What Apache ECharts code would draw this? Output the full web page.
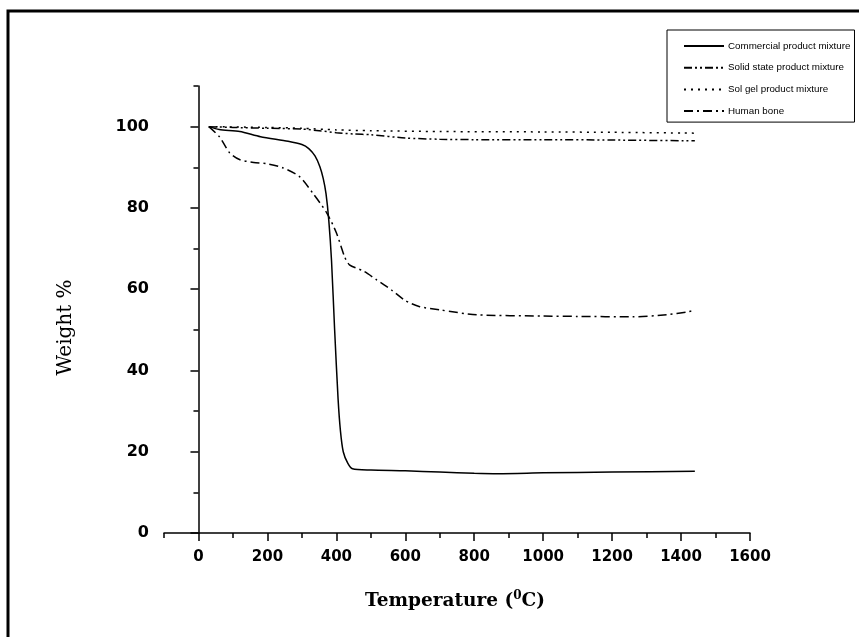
<!DOCTYPE html>
<html>
<head>
<meta charset="utf-8">
<script src="https://cdn.jsdelivr.net/npm/echarts@6/dist/echarts.min.js"></script>
<style>
  html, body { margin: 0; padding: 0; background: #fff; }
  #chart { width: 859px; height: 637px; }
</style>
</head>
<body>
<div id="chart"></div>
<script>
// data: temperature (°C) and weight (%)
var commercialT = [30, 60, 120, 180, 260, 300, 320, 338, 352, 362, 370, 378, 386, 395, 405, 412, 420, 433, 447, 500, 600, 700, 800, 870, 1000, 1200, 1440];
var commercialW = [100, 99.3, 98.8, 97.5, 96.4, 95.6, 94.6, 92.8, 90.2, 87.2, 83.5, 77, 67, 50, 33, 25, 20, 17.2, 15.8, 15.5, 15.3, 15.0, 14.7, 14.6, 14.8, 15.0, 15.2];

var solidT = [30, 100, 200, 300, 350, 400, 450, 500, 600, 700, 800, 1000, 1200, 1440];
var solidW = [100, 99.8, 99.6, 99.4, 99.0, 98.5, 98.2, 98.0, 97.2, 96.9, 96.8, 96.8, 96.7, 96.5];

var solGelT = [30, 200, 300, 400, 500, 700, 1000, 1200, 1440];
var solGelW = [100, 99.8, 99.6, 99.2, 99.0, 98.8, 98.7, 98.6, 98.4];

var boneT = [30, 61, 90, 119, 160, 197, 244, 293, 331, 372, 400, 424, 438, 480, 517, 560, 600, 642, 700, 807, 1000, 1100, 1260, 1358, 1417, 1440];
var boneW = [100, 97.5, 93.6, 91.9, 91.2, 90.9, 89.9, 87.7, 83.7, 78.8, 73.9, 68, 66, 64.4, 62.3, 59.8, 57.2, 55.7, 54.9, 53.7, 53.4, 53.3, 53.2, 53.7, 54.4, 54.8];

var seriesNames = ["Commercial product mixture", "Solid state product mixture", "Sol gel product mixture", "Human bone"];

// tick values: labelled ticks and the short in-between ones
var xMajorTicks = [0, 200, 400, 600, 800, 1000, 1200, 1400, 1600];
var xMinorTicks = [-100, 100, 300, 500, 700, 900, 1100, 1300, 1500];
var yMajorTicks = [0, 20, 40, 60, 80, 100];
var yMinorTicks = [10, 30, 50, 70, 90, 110];

function pairs(xs, ys) {
  return xs.map(function (x, i) { return [x, ys[i]]; });
}

var chart = echarts.init(document.getElementById("chart"));

function lineSeries(name, data, dash) {
  return {
    name: name,
    type: "line",
    data: data,
    symbol: "none",
    smooth: 0.25,
    lineStyle: { color: "#000", width: 1.5, type: dash },
    itemStyle: { color: "#000" },
  };
}

var tickLine = { color: "#000", width: 1.5 };

var option = {
  backgroundColor: "#fff",
  animation: false,
  grid: { left: 164, right: 109, top: 86, bottom: 104 },
  legend: {
    orient: "vertical",
    left: 667,
    top: 30,
    padding: [11, 4, 6, 16],
    itemGap: 11.7,
    itemWidth: 40,
    itemHeight: 10,
    borderColor: "#000",
    borderWidth: 1,
    itemStyle: { opacity: 0 },
    textStyle: { fontFamily: "Liberation Sans", fontSize: 9.8, color: "#000", padding: [0, 0, 0, -1] },
    data: seriesNames,
  },
  xAxis: [
    {
      type: "value",
      min: -100,
      max: 1600,
      interval: 100,
      name: "Temperature ({sup|0}C)",
      nameLocation: "middle",
      nameGap: 57,
      nameTextStyle: {
        fontFamily: "DejaVu Serif",
        fontSize: 18.5,
        fontWeight: "bold",
        color: "#000",
        padding: [0, 4, 0, 0],
        rich: {
          sup: { fontFamily: "DejaVu Serif", fontSize: 12, fontWeight: "bold", verticalAlign: "top", padding: [0, 0, 10, 0] },
        },
      },
      axisLine: { onZero: false, lineStyle: { color: "#000", width: 1.5 } },
      axisTick: { length: 8, customValues: xMajorTicks, lineStyle: tickLine },
      axisLabel: {
        customValues: xMajorTicks,
        fontFamily: "DejaVu Sans",
        fontWeight: "bold",
        fontSize: 15,
        color: "#000",
        margin: 17,
        formatter: function (v) { return String(v); },
      },
      splitLine: { show: false },
    },
    {
      type: "value",
      position: "bottom",
      min: -100,
      max: 1600,
      interval: 100,
      axisLine: { show: false },
      axisTick: { length: 5, customValues: xMinorTicks, lineStyle: tickLine },
      axisLabel: { show: false },
      splitLine: { show: false },
    },
  ],
  yAxis: [
    {
      type: "value",
      min: 0,
      max: 110,
      interval: 10,
      name: "Weight %",
      nameLocation: "middle",
      nameGap: 88,
      nameTextStyle: { fontFamily: "DejaVu Serif", fontSize: 20, color: "#000", padding: [0, 36, 0, 0] },
      axisLine: { lineStyle: { color: "#000", width: 1.5 } },
      axisTick: { length: 8, customValues: yMajorTicks, lineStyle: tickLine },
      axisLabel: {
        customValues: yMajorTicks,
        fontFamily: "DejaVu Sans",
        fontWeight: "bold",
        fontSize: 16,
        color: "#000",
        margin: 15,
        formatter: function (v) { return String(v); },
      },
      splitLine: { show: false },
    },
    {
      type: "value",
      position: "left",
      min: 0,
      max: 110,
      interval: 10,
      axisLine: { show: false },
      axisTick: { length: 5, customValues: yMinorTicks, lineStyle: tickLine },
      axisLabel: { show: false },
      splitLine: { show: false },
    },
  ],
  graphic: [
    {
      type: "rect",
      shape: { x: 8, y: 11, width: 900, height: 700 },
      style: { fill: "none", stroke: "#000", lineWidth: 3 },
      silent: true,
    },
  ],
  series: [
    lineSeries(seriesNames[0], pairs(commercialT, commercialW), "solid"),
    lineSeries(seriesNames[1], pairs(solidT, solidW), [8, 3, 2, 3, 2, 3]),
    lineSeries(seriesNames[2], pairs(solGelT, solGelW), [2, 5]),
    lineSeries(seriesNames[3], pairs(boneT, boneW), [9, 4, 2, 4]),
  ],
};

chart.setOption(option);
</script>
</body>
</html>
